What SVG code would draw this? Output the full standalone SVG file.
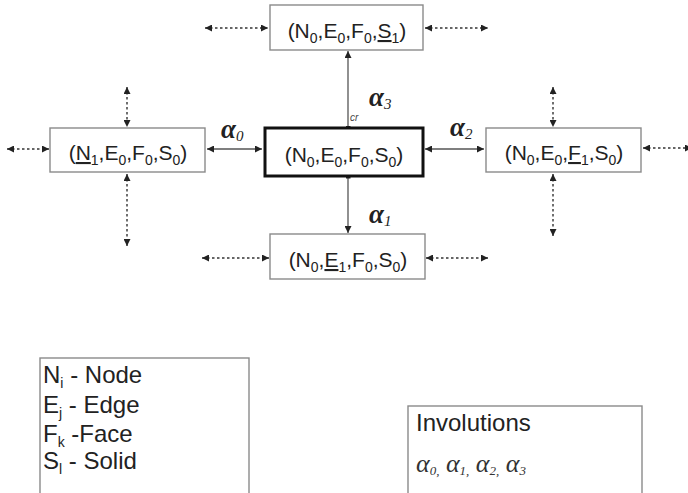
<svg xmlns="http://www.w3.org/2000/svg" width="688" height="493" viewBox="0 0 688 493">
  <defs>
    <marker id="head" viewBox="0 0 10 10" refX="10" refY="5" markerWidth="7" markerHeight="7" markerUnits="userSpaceOnUse" orient="auto-start-reverse">
      <path d="M0,0 L10,5 L0,10 z" fill="#222"/>
    </marker>
    <marker id="foot" viewBox="0 0 10 10" refX="5" refY="5" markerWidth="5" markerHeight="5" markerUnits="userSpaceOnUse">
      <rect x="0" y="0" width="10" height="10" fill="#222"/>
    </marker>
  </defs>
  <style>
    .box { fill: #fff; stroke: #8a8a8a; stroke-width: 1.4; }
    .hub { fill: #fff; stroke: #111; stroke-width: 3; }
    .lbl { font-family: "Liberation Sans", Arial, sans-serif; font-size: 21px; fill: #222; }
    .sub { font-size: 14px; }
    .link { stroke: #555; stroke-width: 1.3; fill: none; }
    .free { stroke: #333; stroke-width: 1.4; stroke-dasharray: 2.5 2.5; fill: none; }
    .alpha { font-family: "Liberation Serif", "Times New Roman", serif; font-style: italic; font-weight: bold; font-size: 27px; fill: #222; }
    .asub { font-weight: normal; font-size: 15px; }
    .legend { font-family: "Liberation Sans", Arial, sans-serif; font-size: 24px; fill: #222; }
    .lsub { font-size: 14px; }
    .frame { fill: #fff; stroke: #8a8a8a; stroke-width: 1.4; }
    .inv { font-family: "Liberation Serif", "Times New Roman", serif; font-style: italic; font-size: 26px; fill: #333; }
  </style>

  <!-- connectors -->
  <g id="connectors">
    <!-- involutions from the central dart -->
    <line class="link" x1="207" y1="149" x2="262" y2="149" marker-start="url(#head)" marker-end="url(#head)"/>
    <line class="link" x1="425" y1="149" x2="484" y2="149" marker-start="url(#head)" marker-end="url(#head)"/>
    <line class="link" x1="348" y1="128" x2="348" y2="51" marker-start="url(#foot)" marker-end="url(#head)"/>
    <line class="link" x1="348" y1="176" x2="348" y2="233" marker-start="url(#foot)" marker-end="url(#head)"/>
    <!-- further involutions of the neighbouring darts -->
    <line class="free" x1="205" y1="28" x2="268" y2="28" marker-start="url(#head)" marker-end="url(#head)"/>
    <line class="free" x1="425" y1="28" x2="488" y2="28" marker-start="url(#head)" marker-end="url(#head)"/>
    <line class="free" x1="202" y1="258" x2="269" y2="258" marker-start="url(#head)" marker-end="url(#head)"/>
    <line class="free" x1="426" y1="258" x2="488" y2="258" marker-start="url(#head)" marker-end="url(#head)"/>
    <line class="free" x1="7" y1="149" x2="49" y2="149" marker-start="url(#head)" marker-end="url(#head)"/>
    <line class="free" x1="127" y1="87" x2="127" y2="127" marker-start="url(#head)" marker-end="url(#head)"/>
    <line class="free" x1="127" y1="174" x2="127" y2="246" marker-start="url(#head)" marker-end="url(#head)"/>
    <line class="free" x1="553" y1="87" x2="553" y2="127" marker-start="url(#head)" marker-end="url(#head)"/>
    <line class="free" x1="553" y1="174" x2="553" y2="236" marker-start="url(#head)" marker-end="url(#head)"/>
    <line class="free" x1="643" y1="148" x2="692" y2="148" marker-start="url(#head)" marker-end="url(#head)"/>
    <!-- involution labels -->
    <text class="alpha" x="221" y="138">α<tspan class="asub" dy="3">0</tspan></text>
    <text class="alpha" x="450" y="136">α<tspan class="asub" dy="3">2</tspan></text>
    <text class="alpha" x="369" y="106">α<tspan class="asub" dy="3">3</tspan></text>
    <text class="alpha" x="369" y="223">α<tspan class="asub" dy="3">1</tspan></text>
    <text x="350" y="121" font-family="Liberation Sans, Arial, sans-serif" font-size="10" font-style="italic" fill="#444">cr</text>
  </g>

  <!-- darts -->
  <g id="dart-center">
    <rect class="hub" x="265" y="128" width="158" height="48"/>
    <text class="lbl" x="344" y="162" text-anchor="middle">(N<tspan class="sub" dy="5">0</tspan><tspan dy="-5">,E</tspan><tspan class="sub" dy="5">0</tspan><tspan dy="-5">,F</tspan><tspan class="sub" dy="5">0</tspan><tspan dy="-5">,S</tspan><tspan class="sub" dy="5">0</tspan><tspan dy="-5">)</tspan></text>
  </g>
  <g id="dart-top">
    <rect class="box" x="270" y="5" width="153" height="45"/>
    <text class="lbl" x="347" y="38" text-anchor="middle">(N<tspan class="sub" dy="5">0</tspan><tspan dy="-5">,E</tspan><tspan class="sub" dy="5">0</tspan><tspan dy="-5">,F</tspan><tspan class="sub" dy="5">0</tspan><tspan dy="-5">,</tspan><tspan text-decoration="underline">S</tspan><tspan class="sub" dy="5">1</tspan><tspan dy="-5">)</tspan></text>
  </g>
  <g id="dart-left">
    <rect class="box" x="50" y="128" width="155" height="44"/>
    <text class="lbl" x="128" y="160" text-anchor="middle">(<tspan text-decoration="underline">N</tspan><tspan class="sub" dy="5">1</tspan><tspan dy="-5">,E</tspan><tspan class="sub" dy="5">0</tspan><tspan dy="-5">,F</tspan><tspan class="sub" dy="5">0</tspan><tspan dy="-5">,S</tspan><tspan class="sub" dy="5">0</tspan><tspan dy="-5">)</tspan></text>
  </g>
  <g id="dart-right">
    <rect class="box" x="486" y="128" width="155" height="44"/>
    <text class="lbl" x="564" y="160" text-anchor="middle">(N<tspan class="sub" dy="5">0</tspan><tspan dy="-5">,E</tspan><tspan class="sub" dy="5">0</tspan><tspan dy="-5">,</tspan><tspan text-decoration="underline">F</tspan><tspan class="sub" dy="5">1</tspan><tspan dy="-5">,S</tspan><tspan class="sub" dy="5">0</tspan><tspan dy="-5">)</tspan></text>
  </g>
  <g id="dart-bottom">
    <rect class="box" x="270" y="234" width="155" height="45"/>
    <text class="lbl" x="348" y="267" text-anchor="middle">(N<tspan class="sub" dy="5">0</tspan><tspan dy="-5">,</tspan><tspan text-decoration="underline">E</tspan><tspan class="sub" dy="5">1</tspan><tspan dy="-5">,F</tspan><tspan class="sub" dy="5">0</tspan><tspan dy="-5">,S</tspan><tspan class="sub" dy="5">0</tspan><tspan dy="-5">)</tspan></text>
  </g>

  <!-- key to the cell indices -->
  <g id="legend-cells">
    <rect class="frame" x="40" y="358" width="209" height="150"/>
    <text class="legend" x="43" y="383">N<tspan class="lsub" dy="5">i</tspan><tspan dy="-5"> - Node</tspan></text>
    <text class="legend" x="43" y="413">E<tspan class="lsub" dy="5">j</tspan><tspan dy="-5"> - Edge</tspan></text>
    <text class="legend" x="43" y="442">F<tspan class="lsub" dy="5">k</tspan><tspan dy="-5"> -Face</tspan></text>
    <text class="legend" x="43" y="469">S<tspan class="lsub" dy="5">l</tspan><tspan dy="-5"> - Solid</tspan></text>
  </g>

  <!-- key to the involutions -->
  <g id="legend-involutions">
    <rect class="frame" x="408" y="406" width="234" height="100"/>
    <text class="legend" x="416" y="431" font-size="22">Involutions</text>
    <text class="inv" x="416" y="472">α<tspan font-size="13" dy="3">0,</tspan><tspan dy="-3"> α</tspan><tspan font-size="13" dy="3">1,</tspan><tspan dy="-3"> α</tspan><tspan font-size="13" dy="3">2,</tspan><tspan dy="-3"> α</tspan><tspan font-size="13" dy="3">3</tspan></text>
  </g>
</svg>
